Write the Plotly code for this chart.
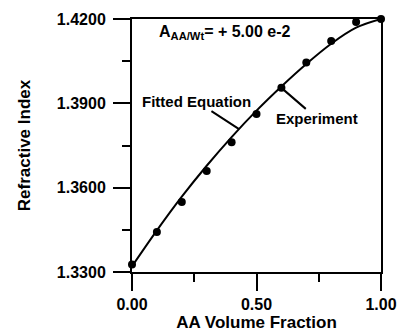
import numpy as np
import plotly.graph_objects as go

# Measured refractive index versus AA volume fraction
volume_fraction = [0.0, 0.1, 0.2, 0.3, 0.4, 0.5, 0.6, 0.7, 0.8, 0.9, 1.0]
experiment_n = [1.3327, 1.3442, 1.3549, 1.3659, 1.3762, 1.3862, 1.3955, 1.4045, 1.4122, 1.4189, 1.4200]

# Fitted-equation curve sampled at the same fractions
fitted_n = [1.3320, 1.3448, 1.3568, 1.3678, 1.3780, 1.3874, 1.3960, 1.4040, 1.4112, 1.4169, 1.4200]

x_ticks = [0.0, 0.5, 1.0]
x_tick_text = ["0.00", "0.50", "1.00"]
y_ticks = [1.33, 1.36, 1.39, 1.42]
y_tick_text = ["1.3300", "1.3600", "1.3900", "1.4200"]

FONT = "Arial, Liberation Sans, sans-serif"

fig = go.Figure()
fig.add_trace(go.Scatter(
    x=volume_fraction, y=fitted_n, mode="lines", line_shape="spline",
    line=dict(color="black", width=2), cliponaxis=False, showlegend=False,
))
fig.add_trace(go.Scatter(
    x=volume_fraction, y=experiment_n, mode="markers",
    marker=dict(color="black", size=8), cliponaxis=False, showlegend=False,
))

axis_common = dict(
    showgrid=False, zeroline=False, showline=True, linecolor="black", linewidth=2,
    mirror=True, ticks="outside", tickcolor="black", tickwidth=2, ticklen=17,
    tickfont=dict(family=FONT, size=16, color="black", weight="bold"),
    automargin=False,
)

fig.update_xaxes(
    range=[0, 1], tickvals=x_ticks, ticktext=x_tick_text,
    minor=dict(tickvals=[0.25, 0.75], ticks="outside", ticklen=8, tickwidth=2, tickcolor="black"),
    title=dict(text="AA Volume Fraction", font=dict(family=FONT, size=17, color="black", weight="bold"),
               standoff=0),
    **axis_common,
)
fig.update_yaxes(
    range=[1.33, 1.42], tickvals=y_ticks, ticktext=y_tick_text,
    minor=dict(tickvals=[1.345, 1.375, 1.405], ticks="outside", ticklen=8, tickwidth=2, tickcolor="black"),
    title=dict(text="Refractive Index", font=dict(family=FONT, size=17, color="black", weight="bold"),
               standoff=22),
    ticklabelstandoff=4,
    **axis_common,
)

ann_font = dict(family=FONT, size=15, color="black", weight="bold")

# Pointer from the label to the fitted curve
fit_x = 0.43
fig.add_annotation(
    x=fit_x, y=float(np.interp(fit_x, volume_fraction, fitted_n)),
    text="Fitted Equation", font=ann_font, showarrow=True, arrowhead=0,
    arrowwidth=2, arrowcolor="black", ax=-43, ay=-28, axref="pixel", ayref="pixel",
)
# Pointer from the label to a measured point
fig.add_annotation(
    x=volume_fraction[6], y=experiment_n[6],
    text="Experiment", font=ann_font, showarrow=True, arrowhead=0,
    arrowwidth=2, arrowcolor="black", ax=36, ay=31, axref="pixel", ayref="pixel",
)
fig.add_annotation(
    xref="paper", yref="paper", x=0.1, y=0.945, xanchor="left", yanchor="middle",
    text="A<sub>AA/Wt</sub>= + 5.00 e-2", showarrow=False,
    font=dict(family=FONT, size=16, color="black", weight="bold"),
)

fig.update_layout(
    width=398, height=334, margin=dict(l=132, r=17, t=19, b=62),
    paper_bgcolor="white", plot_bgcolor="white",
)

fig.write_html("out.html", config={"displayModeBar": False})
